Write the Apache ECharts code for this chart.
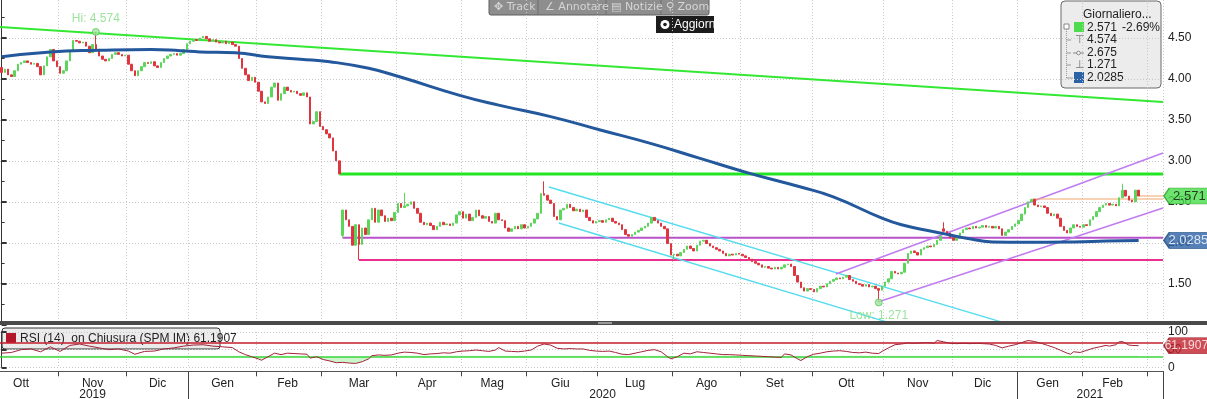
<!DOCTYPE html>
<html>
<head>
<meta charset="utf-8">
<script src="https://cdn.jsdelivr.net/npm/echarts@6/dist/echarts.min.js"></script>
<style>
html,body{margin:0;padding:0;background:#fff;}
#chart{width:1207px;height:399px;}
</style>
</head>
<body>
<div id="chart"></div>
<script>
// trading-day slots shown on the x axis (last ones are empty space)
var slotCount = 358;

// month / year labels (trading-day index where each month starts)
var monthStarts = [18, 39, 58, 79, 99, 122, 142, 162, 184, 207, 228, 250, 272, 293, 313, 333, 353];
var monthNames = ['Ott','Nov','Dic','Gen','Feb','Mar','Apr','Mag','Giu','Lug','Ago','Set','Ott','Nov','Dic','Gen','Feb'];
var yearStarts = [58, 313];
var yearNames = ['2019', '2020', '2021'];

// daily closes, Oct 2019 .. Feb 2021
var closes = [
  4.08,4.12,4.05,4.03,4.10,4.18,4.20,4.22,4.20,4.18,4.19,4.15,4.05,4.16,4.27,4.36,4.22,4.15,
  4.07,4.10,4.22,4.35,4.47,4.46,4.44,4.45,4.40,4.32,4.42,4.36,4.28,4.24,4.22,4.25,4.30,4.32,4.30,4.28,4.29,
  4.18,4.10,4.04,4.10,4.15,4.20,4.19,4.21,4.16,4.14,4.20,4.25,4.28,4.30,4.31,4.29,4.31,4.36,4.43,
  4.46,4.48,4.47,4.50,4.52,4.49,4.46,4.48,4.45,4.44,4.46,4.43,4.45,4.42,4.40,4.25,4.13,4.05,3.98,4.02,3.96,
  3.85,3.72,3.70,3.78,3.90,3.95,3.74,3.82,3.90,3.86,3.84,3.85,3.82,3.80,3.83,3.78,3.45,3.48,3.60,3.42,
  3.38,3.33,3.28,3.12,3.00,2.84,2.40,2.28,2.20,1.97,2.22,1.98,2.18,2.10,2.28,2.42,2.25,2.40,2.33,2.26,2.30,2.27,2.37,
  2.48,2.43,2.45,2.47,2.50,2.42,2.36,2.25,2.22,2.24,2.21,2.16,2.20,2.25,2.22,2.23,2.21,2.24,2.34,2.38,
  2.30,2.35,2.27,2.31,2.40,2.33,2.30,2.32,2.26,2.24,2.36,2.28,2.27,2.18,2.14,2.17,2.20,2.17,2.22,2.18,
  2.20,2.24,2.29,2.36,2.60,2.58,2.52,2.48,2.32,2.28,2.40,2.42,2.47,2.43,2.39,2.41,2.38,2.40,2.31,2.27,2.24,2.26,
  2.27,2.25,2.28,2.30,2.26,2.24,2.22,2.16,2.10,2.08,2.10,2.13,2.15,2.18,2.20,2.24,2.31,2.27,2.24,2.20,2.17,1.99,1.85,
  1.86,1.84,1.88,1.92,1.96,1.93,1.90,1.97,2.02,2.03,1.99,1.96,1.94,1.92,1.90,1.87,1.84,1.86,1.85,1.87,1.86,
  1.84,1.82,1.80,1.77,1.75,1.73,1.70,1.71,1.69,1.68,1.70,1.68,1.70,1.73,1.74,1.71,1.60,1.52,1.45,1.41,1.44,1.43,
  1.40,1.44,1.47,1.46,1.50,1.53,1.55,1.57,1.56,1.58,1.60,1.55,1.53,1.50,1.49,1.47,1.49,1.46,1.47,1.44,1.42,1.47,
  1.52,1.56,1.65,1.63,1.62,1.64,1.75,1.87,1.90,1.88,1.85,1.92,1.94,1.96,1.95,1.98,2.03,2.08,2.14,2.12,2.06,
  2.03,2.06,2.12,2.16,2.18,2.17,2.20,2.18,2.19,2.21,2.19,2.20,2.18,2.20,2.17,2.09,2.13,2.16,2.20,2.23,
  2.27,2.35,2.43,2.50,2.53,2.46,2.44,2.45,2.43,2.36,2.33,2.35,2.30,2.20,2.15,2.12,2.18,2.22,2.20,2.19,
  2.22,2.21,2.28,2.32,2.38,2.43,2.46,2.48,2.46,2.47,2.45,2.55,2.64,2.57,2.52,2.50,2.642,2.571
];
var firstOpen = 4.14;
// days that opened away from the previous close [day, open]
var gapOpens = [[105, 2.09], [290, 2.17]];
// long wicks [day, price]
var wickHighs = [[29, 4.574], [124, 2.61], [167, 2.75], [290, 2.25], [345, 2.72]];
var wickLows = [[105, 2.06], [110, 1.79], [207, 1.79], [270, 1.271]];

// moving average [day, value]
var maPoints = [
  [0,4.27],[15,4.33],[30,4.35],[46,4.36],[55,4.345],[61,4.33],[72,4.32],[82,4.27],[92,4.24],[101,4.21],
  [113,4.13],[123,4.02],[141,3.80],[153,3.68],[169,3.54],[184,3.38],[200,3.21],[215,3.03],[230,2.85],
  [246,2.68],[256,2.56],[271,2.30],[277,2.22],[287,2.135],[292,2.095],[297,2.055],[305,2.01],[315,2.005],
  [330,2.01],[340,2.02],[350,2.0285]
];

// RSI(14) [day, value]
var rsiPoints = [
  [0,40],[3,42],[6,50],[9,52],[12,44],[15,58],[18,45],[21,62],[24,66],[27,60],[30,55],[33,50],[36,52],
  [39,46],[41,37],[44,45],[47,46],[50,52],[53,55],[56,60],[59,63],[62,64],[65,60],[68,58],[71,56],[73,44],
  [75,36],[77,30],[79,24],[80,20],[82,30],[84,40],[86,36],[88,40],[90,39],[92,38],[94,37],[95,26],[97,30],
  [99,22],[101,18],[103,13],[105,14],[107,12],[109,11],[111,16],[113,24],[114,33],[116,35],[118,34],[120,35],
  [122,40],[124,43],[126,42],[128,40],[130,36],[132,38],[134,39],[136,41],[138,40],[140,44],[142,46],[144,47],
  [146,49],[148,47],[150,45],[152,49],[153,56],[155,46],[157,45],[159,44],[161,46],[163,49],[165,60],[167,66],
  [169,63],[171,54],[173,52],[175,53],[177,52],[179,52],[181,48],[183,46],[185,45],[187,46],[189,42],[191,37],
  [193,36],[195,40],[197,44],[199,48],[201,50],[203,44],[205,30],[206,24],[208,30],[210,40],[212,38],[214,44],
  [216,42],[218,40],[220,38],[222,36],[224,36],[226,35],[228,34],[230,33],[232,32],[234,31],[236,30],[238,29],
  [240,28],[241,38],[243,35],[245,24],[246,19],[248,30],[250,37],[252,40],[254,44],[256,46],[258,47],[260,45],
  [262,42],[264,41],[266,43],[268,40],[270,39],[271,45],[273,55],[275,64],[277,66],[279,69],[281,68],[283,69],
  [285,70],[287,68],[288,76],[290,72],[292,68],[294,67],[296,68],[298,67],[300,68],[302,67],[304,66],[306,62],
  [308,55],[310,60],[312,64],[314,70],[316,76],[318,73],[320,68],[322,62],[324,56],[326,48],[328,40],[329,37],
  [330,44],[332,42],[334,48],[336,54],[338,58],[340,62],[341,60],[343,64],[344,72],[345,73],[347,63],[348,62],
  [350,61.1907]
];
var rsiLevels = [70, 30];

// drawn trend lines [day, price] end points
var lineGreenFall = [[-0.5, 4.634], [357.5, 3.719]];
var lineGreenFlat = [[104, 2.84], [357.5, 2.84]];
var linePurpleFlat = [[105, 2.062], [357.5, 2.062]];
var linePinkFlat = [[110, 1.789], [357.5, 1.789]];
var lineCyanUp = [[168.5, 2.681], [310.5, 1.0]];
var lineCyanDown = [[171.5, 2.241], [275.2, 1.0]];
var lineChanTop = [[256.8, 1.618], [357.5, 3.096]];
var lineChanBottom = [[270, 1.28], [357.5, 2.424]];
var lineOrange = [[317.4, 2.534], [357.5, 2.534]];

// marked extremes
var extremes = [[29, 4.574], [270, 1.271]];
var extremeNames = ['Hi', 'Low'];

// header box numbers
var statChange = '-2.69%';
var statHigh = 4.574;
var statAvg = 2.675;
var statLow = 1.271;

var FONT = 'Liberation Sans, Arial, sans-serif';
var cats = [];
for (var i = 0; i < slotCount; i++) cats.push(String(i));

var gapMap = {}, hiMap = {}, loMap = {};
gapOpens.forEach(function (g) { gapMap[g[0]] = g[1]; });
wickHighs.forEach(function (w) { hiMap[w[0]] = w[1]; });
wickLows.forEach(function (w) { loMap[w[0]] = w[1]; });

var candles = closes.map(function (c, i) {
  var o = i === 0 ? firstOpen : closes[i - 1];
  if (gapMap[i] !== undefined) o = gapMap[i];
  var lo = Math.min(o, c), hi = Math.max(o, c);
  if (loMap[i] !== undefined) lo = loMap[i];
  if (hiMap[i] !== undefined) hi = hiMap[i];
  return [o, c, lo, hi];
});

var monthStartSet = {};
monthStarts.forEach(function (s) { monthStartSet[s] = true; });
var monthLabelAt = {};
monthNames.forEach(function (name, k) {
  var s = k === 0 ? monthStarts[0] - 23 : monthStarts[k - 1];
  var e = monthStarts[k];
  monthLabelAt[Math.floor((s + e - 1) / 2)] = name;
});
var yearStartSet = {};
yearStarts.forEach(function (s) { yearStartSet[s] = true; });
var yearLabelAt = {};
var yb = [0].concat(yearStarts).concat([slotCount]);
yearNames.forEach(function (name, k) {
  yearLabelAt[Math.floor((yb[k] + yb[k + 1] - 1) / 2)] = name;
});

var lastClose = closes[closes.length - 1];
var lastMa = maPoints[maPoints.length - 1][1];
var lastRsi = rsiPoints[rsiPoints.length - 1][1];

var dotted = {color: '#c8c8c8', type: [1, 2], width: 1};
var labelStyle = {color: '#222', fontSize: 12, fontFamily: FONT};

function trend(points, color, width) {
  return {
    type: 'line', xAxisIndex: 1, yAxisIndex: 0, data: points,
    symbol: 'none', silent: true, z: 4,
    lineStyle: {color: color, width: width}
  };
}

function tag(x, y, xi, yi, text, bg, border, fg, size, dx) {
  return {
    type: 'scatter', xAxisIndex: xi, yAxisIndex: yi, clip: false, silent: true, z: 30,
    symbol: 'path://M0,8L7,0L60,0L60,16L7,16Z', symbolSize: [47, 16],
    data: [[x, y]],
    itemStyle: {color: bg, borderColor: border, borderWidth: 1},
    label: {show: true, position: 'inside', formatter: text, color: fg,
      fontSize: size, fontFamily: FONT, offset: [dx, 0]}
  };
}

var chart = echarts.init(document.getElementById('chart'));

var option = {
  animation: false,
  backgroundColor: '#ffffff',
  grid: [
    {left: 0, right: 44, top: -2.95, height: 327.6, outerBoundsMode: 'none'},
    {left: 0, right: 44, top: 332, height: 35.3, outerBoundsMode: 'none'},
    {left: 0, right: 44, top: 356.7, height: 10.6, outerBoundsMode: 'none'},
    {left: 0, right: 44, top: 332, height: 10.6, outerBoundsMode: 'none'}
  ],
  xAxis: [
    {type: 'category', gridIndex: 0, data: cats, boundaryGap: true,
      axisLine: {show: false}, axisTick: {show: false}, axisLabel: {show: false},
      splitLine: {show: true, interval: function (i) { return !!monthStartSet[i]; }, lineStyle: dotted}},
    {type: 'value', gridIndex: 0, min: -0.5, max: slotCount - 0.5, show: false},
    {type: 'category', gridIndex: 1, data: cats, boundaryGap: true, position: 'bottom', offset: 4,
      axisLine: {show: true, onZero: false, lineStyle: {color: '#555'}},
      axisTick: {show: true, interval: function (i) { return !!monthStartSet[i]; }, length: 5, lineStyle: {color: '#444'}},
      axisLabel: Object.assign({interval: function (i) { return monthLabelAt[i] !== undefined; },
        formatter: function (v, i) { return monthLabelAt[i] || ''; }, margin: 6}, labelStyle),
      splitLine: {show: true, interval: function (i) { return !!monthStartSet[i]; }, lineStyle: dotted}},
    {type: 'value', gridIndex: 1, min: -0.5, max: slotCount - 0.5, show: false},
    {type: 'category', gridIndex: 1, data: cats, boundaryGap: true, position: 'bottom', offset: 4,
      axisLine: {show: false, onZero: false},
      axisTick: {show: true, interval: function (i) { return !!yearStartSet[i]; }, length: 28, lineStyle: {color: '#444'}},
      axisLabel: Object.assign({interval: function (i) { return yearLabelAt[i] !== undefined; },
        formatter: function (v, i) { return yearLabelAt[i] || ''; }, margin: 17}, labelStyle),
      splitLine: {show: false}},
    {type: 'value', gridIndex: 2, min: -0.5, max: slotCount - 0.5, show: false},
    {type: 'value', gridIndex: 3, min: -0.5, max: slotCount - 0.5, show: false}
  ],
  yAxis: [
    {type: 'value', gridIndex: 0, position: 'right', min: 1, max: 5, interval: 0.5, scale: false,
      axisLine: {show: true, lineStyle: {color: '#333'}},
      axisTick: {show: true, length: 5, lineStyle: {color: '#333', width: 2}},
      minorTick: {show: true, splitNumber: 2, length: 3, lineStyle: {color: '#333'}},
      axisLabel: Object.assign({showMinLabel: false, showMaxLabel: false, margin: 5,
        formatter: function (v) { return v.toFixed(2); }}, labelStyle),
      splitLine: {show: true, lineStyle: dotted}},
    {type: 'value', gridIndex: 1, position: 'right', min: 0, max: 100, interval: 50,
      axisLine: {show: true, lineStyle: {color: '#333'}},
      axisTick: {show: true, length: 5, lineStyle: {color: '#333', width: 2}},
      axisLabel: Object.assign({margin: 5}, labelStyle),
      splitLine: {show: true, lineStyle: dotted}},
    {type: 'value', gridIndex: 2, min: 0, max: 30, show: false},
    {type: 'value', gridIndex: 3, min: 70, max: 100, show: false}
  ],
  series: [
    {type: 'candlestick', xAxisIndex: 0, yAxisIndex: 0, data: candles, barWidth: 2, z: 5,
      itemStyle: {color: '#5bd65b', color0: '#e0353f', borderColor: '#5bd65b', borderColor0: '#e0353f', borderWidth: 1}},
    {type: 'line', xAxisIndex: 1, yAxisIndex: 0, data: maPoints, smooth: true, symbol: 'none', silent: true, z: 6,
      lineStyle: {color: '#24589c', width: 3}},
    trend(lineGreenFall, '#33e833', 2),
    trend(lineGreenFlat, '#22e622', 3),
    trend(linePurpleFlat, '#b852c8', 2),
    trend(linePinkFlat, '#ec2f8e', 2),
    trend(lineCyanUp, '#56dcef', 1.5),
    trend(lineCyanDown, '#56dcef', 1.5),
    trend(lineChanTop, '#c07cf0', 1.5),
    trend(lineChanBottom, '#c07cf0', 1.5),
    trend(lineOrange, '#f4a56a', 1.2),
    trend([[closes.length - 1, lastClose], [slotCount - 0.5, lastClose]], '#f4a56a', 1.2),
    {type: 'scatter', xAxisIndex: 1, yAxisIndex: 0, silent: true, z: 8, symbolSize: 7,
      itemStyle: {color: '#9fe69f', borderColor: '#5cc85c', borderWidth: 1},
      data: extremes.map(function (p, k) {
        return {value: p, label: {show: true, position: k === 0 ? 'top' : 'bottom', distance: 3,
          formatter: extremeNames[k] + ': ' + p[1], color: '#82dc82', fontSize: 12, fontFamily: FONT}};
      })},
    tag(365, lastClose, 1, 0, lastClose.toFixed(3), '#48dd48', '#2a9a2a', '#111', 13, 2),
    tag(365, lastMa, 1, 0, lastMa.toFixed(4), '#2b61a6', '#1d4a80', '#fff', 13, 1),
    {type: 'line', xAxisIndex: 3, yAxisIndex: 1, data: rsiPoints, symbol: 'none', silent: true, z: 6,
      lineStyle: {color: '#a3233a', width: 1},
      markLine: {silent: true, symbol: 'none', label: {show: false},
        data: [
          {yAxis: rsiLevels[0], lineStyle: {color: '#c4202c', width: 1.5, type: 'solid'}},
          {yAxis: rsiLevels[1], lineStyle: {color: '#3ad63a', width: 1.5, type: 'solid'}}
        ]}},
    {type: 'line', xAxisIndex: 5, yAxisIndex: 2, data: rsiPoints, symbol: 'none', silent: true, z: 3,
      lineStyle: {opacity: 0}, areaStyle: {origin: 'end', color: 'rgba(130,232,130,0.6)'}},
    {type: 'line', xAxisIndex: 6, yAxisIndex: 3, data: rsiPoints, symbol: 'none', silent: true, z: 3,
      lineStyle: {opacity: 0}, areaStyle: {origin: 'start', color: 'rgba(240,150,160,0.35)'}},
    tag(365, lastRsi, 3, 1, String(lastRsi), '#c21f2b', '#8a1019', '#fff', 12, -1)
  ],
  graphic: [
    // panel separator
    {type: 'rect', z: 100, shape: {x: 0, y: 321, width: 1207, height: 4}, style: {fill: '#4a4a4a'}},
    {type: 'rect', z: 101, shape: {x: 598, y: 322, width: 14, height: 2}, style: {fill: '#9a9a9a'}},
    // toolbar
    {type: 'group', z: 100, children: [
      {type: 'rect', shape: {x: 489, y: -2, width: 220, height: 17, r: 2}, style: {fill: '#8e8e8e', stroke: '#5e5e5e'}},
      {type: 'line', shape: {x1: 538, y1: 0, x2: 538, y2: 15}, style: {stroke: '#6e6e6e'}},
      {type: 'line', shape: {x1: 606, y1: 0, x2: 606, y2: 15}, style: {stroke: '#6e6e6e'}},
      {type: 'line', shape: {x1: 661, y1: 0, x2: 661, y2: 15}, style: {stroke: '#6e6e6e'}},
      {type: 'text', style: {x: 494, y: 7, text: '\u2725 Track', fill: '#d6d6d6', font: '11px DejaVu Sans', textVerticalAlign: 'middle'}},
      {type: 'text', style: {x: 545, y: 7, text: '\u2220 Annotare', fill: '#d6d6d6', font: '11px DejaVu Sans', textVerticalAlign: 'middle'}},
      {type: 'text', style: {x: 611, y: 7, text: '\u25A4 Notizie', fill: '#d6d6d6', font: '11px DejaVu Sans', textVerticalAlign: 'middle'}},
      {type: 'text', style: {x: 666, y: 7, text: '\u26B2 Zoom', fill: '#d6d6d6', font: '11px DejaVu Sans', textVerticalAlign: 'middle'}},
      {type: 'rect', shape: {x: 656, y: 16, width: 58, height: 17}, style: {fill: '#1c1c1c'}},
      {type: 'circle', shape: {cx: 665, cy: 24.5, r: 4.5}, style: {fill: '#ffffff'}},
      {type: 'circle', shape: {cx: 665, cy: 24.5, r: 1.8}, style: {fill: '#1c1c1c'}},
      {type: 'text', style: {x: 674, y: 24.5, text: 'Aggiorn', fill: '#ffffff', font: '12px ' + FONT, textVerticalAlign: 'middle'}}
    ]},
    // header box
    {type: 'group', z: 100, children: [
      {type: 'rect', shape: {x: 1061, y: 1, width: 100, height: 87, r: 4}, style: {fill: '#ececec', stroke: '#6a6a6a'}},
      {type: 'text', style: {x: 1083, y: 15, text: 'Giornaliero...', fill: '#222', font: '12px ' + FONT, textVerticalAlign: 'middle'}},
      {type: 'rect', shape: {x: 1064, y: 24, width: 5, height: 5}, style: {fill: '#fff', stroke: '#888'}},
      {type: 'line', shape: {x1: 1066.5, y1: 29, x2: 1066.5, y2: 78}, style: {stroke: '#999', lineDash: [1, 1]}},
      {type: 'line', shape: {x1: 1066.5, y1: 40, x2: 1071, y2: 40}, style: {stroke: '#999'}},
      {type: 'line', shape: {x1: 1066.5, y1: 53, x2: 1071, y2: 53}, style: {stroke: '#999'}},
      {type: 'line', shape: {x1: 1066.5, y1: 65, x2: 1071, y2: 65}, style: {stroke: '#999'}},
      {type: 'line', shape: {x1: 1066.5, y1: 78, x2: 1073, y2: 78}, style: {stroke: '#999'}},
      {type: 'rect', shape: {x: 1074, y: 22, width: 10, height: 10}, style: {fill: '#4ddc4d'}},
      {type: 'text', style: {x: 1087, y: 28, text: lastClose.toFixed(3), fill: '#222', font: '12px ' + FONT, textVerticalAlign: 'middle'}},
      {type: 'text', style: {x: 1122, y: 28, text: statChange, fill: '#222', font: '12px ' + FONT, textVerticalAlign: 'middle'}},
      {type: 'text', style: {x: 1075, y: 40, text: '\u22A4', fill: '#777', font: '11px DejaVu Sans', textVerticalAlign: 'middle'}},
      {type: 'text', style: {x: 1087, y: 40, text: statHigh.toFixed(3), fill: '#222', font: '12px ' + FONT, textVerticalAlign: 'middle'}},
      {type: 'line', shape: {x1: 1073, y1: 53, x2: 1084, y2: 53}, style: {stroke: '#888'}},
      {type: 'circle', shape: {cx: 1078.5, cy: 53, r: 1.8}, style: {fill: '#fff', stroke: '#888'}},
      {type: 'text', style: {x: 1087, y: 53, text: statAvg.toFixed(3), fill: '#222', font: '12px ' + FONT, textVerticalAlign: 'middle'}},
      {type: 'text', style: {x: 1075, y: 65, text: '\u22A5', fill: '#777', font: '11px DejaVu Sans', textVerticalAlign: 'middle'}},
      {type: 'text', style: {x: 1087, y: 65, text: statLow.toFixed(3), fill: '#222', font: '12px ' + FONT, textVerticalAlign: 'middle'}},
      {type: 'rect', shape: {x: 1074, y: 72, width: 10, height: 11}, style: {fill: '#2b61a6'}},
      {type: 'text', style: {x: 1087, y: 78, text: lastMa.toFixed(4), fill: '#222', font: '12px ' + FONT, textVerticalAlign: 'middle'}}
    ]},
    // RSI caption box
    {type: 'group', z: 100, children: [
      {type: 'rect', shape: {x: 2, y: 328, width: 218, height: 21, r: 3}, style: {fill: '#ebebeb', stroke: '#333'}},
      {type: 'rect', shape: {x: 6, y: 333, width: 10, height: 10}, style: {fill: '#b3182a'}},
      {type: 'text', style: {x: 20, y: 338.5, text: 'RSI (14)  on Chiusura (SPM IM) ' + lastRsi, fill: '#222', font: '12px ' + FONT, textVerticalAlign: 'middle'}}
    ]}
  ]
};

chart.setOption(option);
</script>
</body>
</html>
